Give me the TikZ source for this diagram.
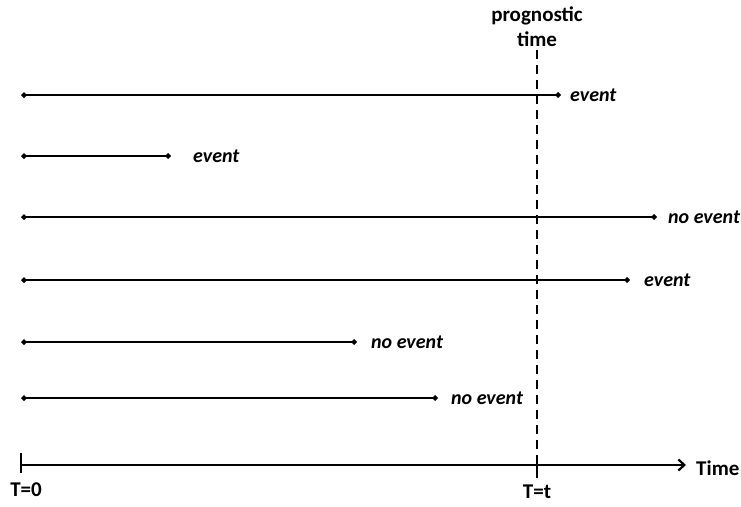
\documentclass[tikz,border=0pt]{standalone}
\usepackage{fontspec}
\setmainfont{Carlito}
\usetikzlibrary{arrows.meta}
\begin{document}
\begin{tikzpicture}[x=1pt,y=-1pt,
  tl/.style={line width=2.2pt,{Turned Square[length=6pt,width=6pt]}-{Turned Square[length=6pt,width=6pt]}},
  lbl/.style={font=\bfseries\itshape\fontsize{20}{22}\selectfont,anchor=west,inner sep=0pt},
  ax/.style={font=\bfseries\fontsize{21}{25}\selectfont,inner sep=0pt}]
\useasboundingbox (0,0) rectangle (741,506);
% rows
\foreach \n/\y/\e/\t in {1/95/561/event,2/156/171/event,3/217/657/no event,4/280/630/event,5/342/357/no event,6/398/438/no event}{
  \coordinate (s\n) at (21,\y);
  \coordinate (e\n) at (\e,\y);
  \draw[tl] (s\n) -- (e\n);
}
\node[lbl] (l1) at (570,95) {event};
\node[lbl] (l2) at (193,156) {event};
\node[lbl] (l3) at (668,217) {no event};
\node[lbl] (l4) at (644,280) {event};
\node[lbl] (l5) at (371,342) {no event};
\node[lbl] (l6) at (451,398) {no event};
% axis
\coordinate (a0) at (21,465);
\coordinate (a1) at (686,465);
\draw[line width=2.2pt,-{Straight Barb[length=6pt,width=11pt,line width=2.2pt]}] (a0) -- (a1);
\draw[line width=2.2pt] (21,453) -- (21,473);
\draw[line width=2.2pt] (537,455) -- (537,478);
\node[ax,anchor=west] (time) at (696,468) {Time};
\node[ax] (t0) at (26,490) {T=0};
\node[ax] (tt) at (537,492) {T=t};
% prognostic
\coordinate (p0) at (537,50);
\coordinate (p1) at (537,455);
\draw[line width=2.2pt,dash pattern=on 9pt off 6pt] (p0) -- (p1);
\node[ax,align=center] (prog) at (537,27) {prognostic\\time};
\end{tikzpicture}
\end{document}
